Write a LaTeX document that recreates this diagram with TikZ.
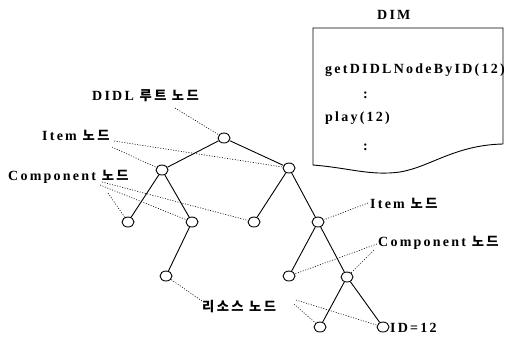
\documentclass[tikz,border=0pt]{standalone}
\usepackage{fontspec}
\setmainfont{Liberation Serif}[LetterSpace=16, BoldFeatures={LetterSpace=16}]
\newfontfamily\kr{Noto Sans CJK KR}[Scale=0.95, LetterSpace=18, BoldFeatures={LetterSpace=18}]
\newcommand\krt[1]{{\kr #1}}
\usetikzlibrary{shapes.geometric}
\tikzset{
  tn/.style={draw, ellipse, minimum width=12pt, minimum height=10pt, inner sep=0pt, line width=0.9pt},
  edge/.style={line width=0.9pt},
  lead/.style={line width=0.6pt, dash pattern=on 1pt off 1.6pt},
  lbl/.style={anchor=west, inner sep=0pt, font=\fontsize{14}{16}\selectfont\bfseries},
  boxtxt/.style={anchor=west, inner sep=0pt, font=\fontsize{14}{16}\selectfont\bfseries}
}
\begin{document}
\begin{tikzpicture}[x=1pt,y=-1pt]
\useasboundingbox (0,0) rectangle (505,338);
% tree nodes
\node[tn] (root) at (224,138) {};
\node[tn] (a) at (162,170) {};
\node[tn] (b) at (289,168) {};
\node[tn] (c1) at (128,222) {};
\node[tn] (c2) at (192,222) {};
\node[tn] (c3) at (254,222) {};
\node[tn] (c4) at (318,222) {};
\node[tn] (d1) at (166,276) {};
\node[tn] (d2) at (289,276) {};
\node[tn] (d3) at (347,277) {};
\node[tn] (e1) at (320,327) {};
\node[tn] (e2) at (383,327) {};
% tree edges
\draw[edge] (root) -- (a);
\draw[edge] (root) -- (b);
\draw[edge] (a) -- (c1);
\draw[edge] (a) -- (c2);
\draw[edge] (c2) -- (d1);
\draw[edge] (b) -- (c3);
\draw[edge] (b) -- (c4);
\draw[edge] (c4) -- (d2);
\draw[edge] (c4) -- (d3);
\draw[edge] (d3) -- (e1);
\draw[edge] (d3) -- (e2);
% labels
\node[lbl] (lroot) at (92,96) {DIDL \krt{루트 노드}};
\node[lbl] (litem) at (42,135) {Item \krt{노드}};
\node[lbl] (lcomp) at (8,177) {Component \krt{노드}};
\node[lbl] (ritem) at (370,203) {Item \krt{노드}};
\node[lbl] (rcomp) at (378,243) {Component \krt{노드}};
\node[lbl] (lres) at (202,307) {\krt{리소스 노드}};
\node[lbl] (lid) at (390,328) {ID=12};
% leader start points
\coordinate (p1) at (175,108);
\coordinate (p2) at (112,147);
\coordinate (p3) at (114,141);
\coordinate (p4) at (108,193);
\coordinate (p5) at (100,185);
\coordinate (p6) at (102,182);
\coordinate (p7) at (368,203);
\coordinate (p8) at (377,244);
\coordinate (p9) at (374,250);
\coordinate (p10) at (202,301);
\coordinate (p11) at (294,304);
\coordinate (p12) at (296,300);
\draw[lead] (p1) -- (root);
\draw[lead] (p2) -- (a);
\draw[lead] (p3) -- (b);
\draw[lead] (p4) -- (c1);
\draw[lead] (p5) -- (c2);
\draw[lead] (p6) -- (c3);
\draw[lead] (p7) -- (c4);
\draw[lead] (p8) -- (d2);
\draw[lead] (p9) -- (d3);
\draw[lead] (p10) -- (d1);
\draw[lead] (p11) -- (e1);
\draw[lead] (p12) -- (e2);
% DIM document box
\node[lbl] (dim) at (377,15) {DIM};
\draw[line width=0.9pt] (503,144) -- (503,28) -- (313,28) -- (313,165)
  .. controls (350,168) and (370,176) .. (400,172)
  .. controls (430,167) and (455,145) .. (503,144);
\node[boxtxt] (t1) at (325,70) {getDIDLNodeByID(12)};
\node[boxtxt] (t2) at (363,95) {:};
\node[boxtxt] (t3) at (325,118) {play(12)};
\node[boxtxt] (t4) at (363,147) {:};
\end{tikzpicture}
\end{document}
